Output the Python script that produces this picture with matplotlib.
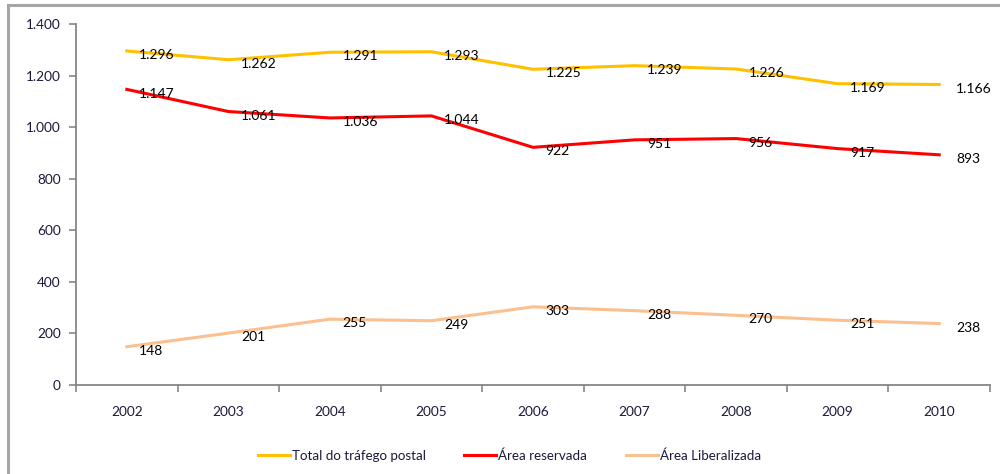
import matplotlib.pyplot as plt
from matplotlib.patches import Rectangle

plt.rcParams['font.family'] = ['Lato', 'DejaVu Sans']

anos = ['2002', '2003', '2004', '2005', '2006', '2007', '2008', '2009', '2010']
total = [1296, 1262, 1291, 1293, 1225, 1239, 1226, 1169, 1166]
reservada = [1147, 1061, 1036, 1044, 922, 951, 956, 917, 893]
liberalizada = [148, 201, 255, 249, 303, 288, 270, 251, 238]

series = [
    ('Total do tráfego postal', total, '#FFC000'),
    ('Área reservada', reservada, '#FF0000'),
    ('Área Liberalizada', liberalizada, '#FAC090'),
]


def fmt(v):
    # separador de milhares com ponto
    return '{:,}'.format(v).replace(',', '.')


fig = plt.figure(figsize=(10, 4.74), dpi=100)
ax = fig.add_axes([0.076, 0.188, 0.914, 0.761])

x = list(range(len(anos)))
for nome, vals, cor in series:
    ax.plot(x, vals, color=cor, lw=2.2, label=nome, solid_joinstyle='round')
    for i, v in enumerate(vals):
        dx = 12 if i == len(vals) - 1 else 9
        ax.annotate(fmt(v), (i, v), xytext=(dx, -3), textcoords='offset points',
                    ha='left', va='center', fontsize=10, color='black')

ax.set_xlim(-0.5, len(anos) - 0.5)
ax.set_ylim(0, 1400)
ax.set_yticks(range(0, 1401, 200))
ax.set_yticklabels([fmt(v) for v in range(0, 1401, 200)])
ax.set_xticks(x)
ax.set_xticklabels(anos)
ax.set_xticks([i - 0.5 for i in range(len(anos) + 1)], minor=True)
ax.tick_params(axis='x', which='major', length=0, pad=15)
ax.tick_params(axis='x', which='minor', length=5, color='#868686', width=1.2)
ax.tick_params(axis='y', length=5, color='#868686', width=1.2, pad=6)
ax.tick_params(labelsize=9.8, labelcolor='#1a1a3a')

for s in ['top', 'right']:
    ax.spines[s].set_visible(False)
for s in ['left', 'bottom']:
    ax.spines[s].set_color('#868686')
    ax.spines[s].set_linewidth(1.3)

ax.legend(loc='upper center', bbox_to_anchor=(0.474, -0.145), ncol=3, frameon=False,
          fontsize=9.6, handlelength=2.4, handletextpad=0.15, columnspacing=2.9,
          labelcolor='#1a1a3a')

# moldura exterior
fig.patches.append(Rectangle((0.008, -0.05), 1.1, 1.04, transform=fig.transFigure,
                             fill=False, edgecolor='#a6a6a6', lw=2.2))

plt.savefig('out.png', dpi=100)
